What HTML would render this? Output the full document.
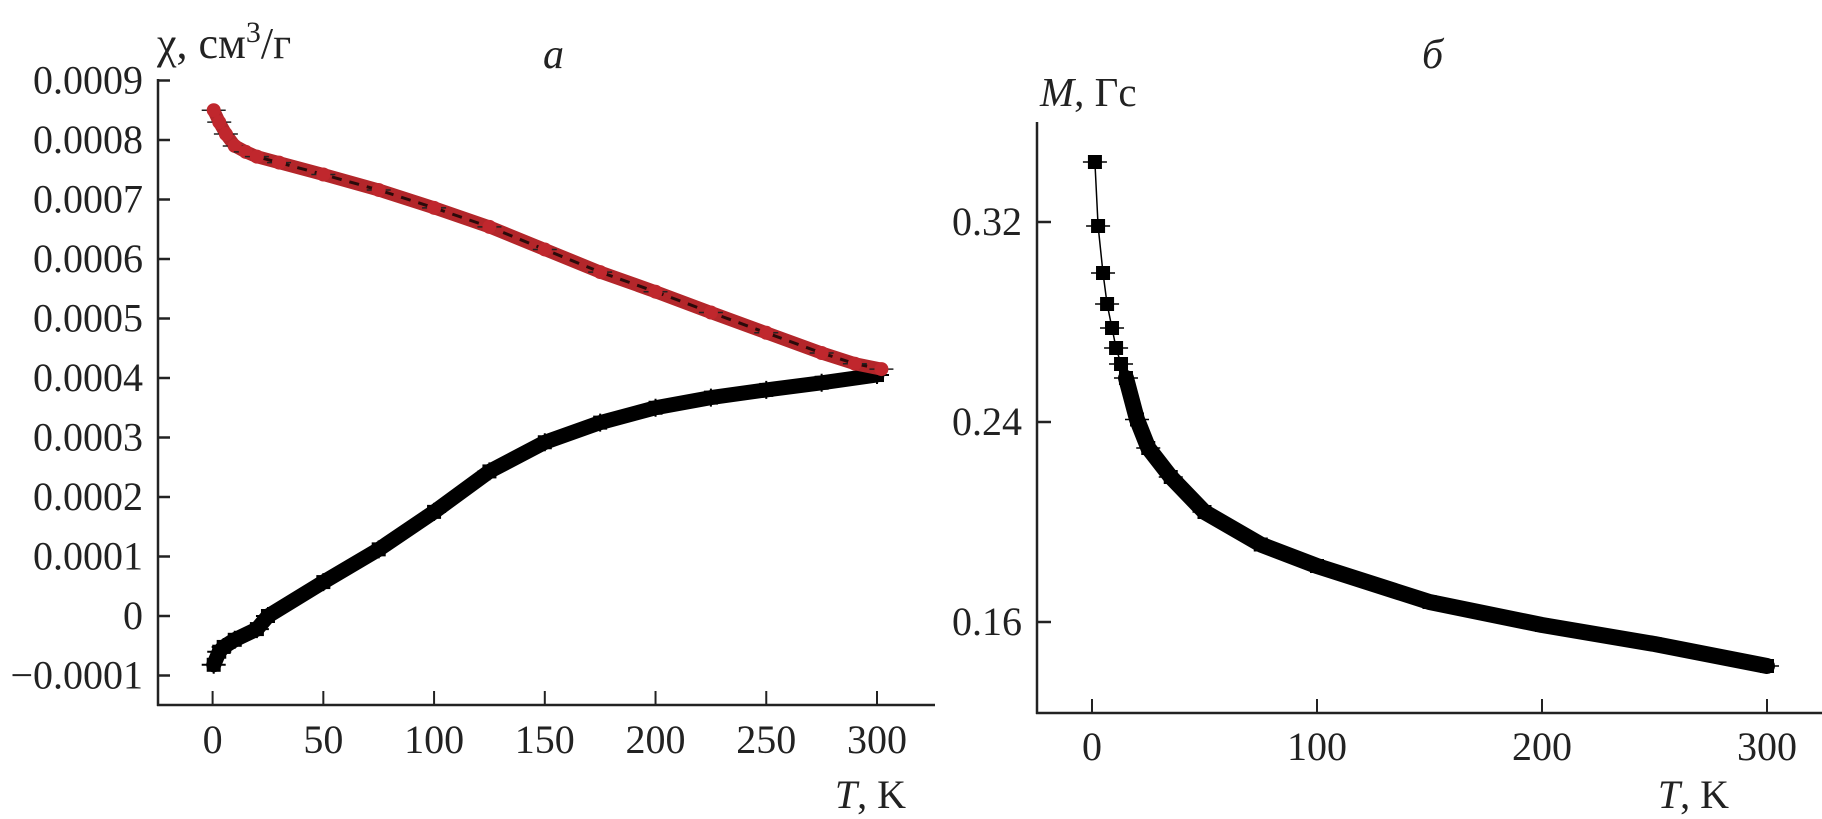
<!DOCTYPE html>
<html><head><meta charset="utf-8"><style>
html,body{margin:0;padding:0;background:#fff;}
svg{display:block;font-family:"Liberation Serif",serif;}
</style></head><body>
<svg id="fig" width="1822" height="819" viewBox="0 0 1822 819" xmlns="http://www.w3.org/2000/svg">
<g id="pa"></g>
<g id="pb"></g>
</svg>
<script>
// Panel a data
const aTicksX = [0, 50, 100, 150, 200, 250, 300];
const aTicksY = [0.0009, 0.0008, 0.0007, 0.0006, 0.0005, 0.0004, 0.0003, 0.0002, 0.0001, 0, -0.0001];
const aTickLabelsY = ["0.0009","0.0008","0.0007","0.0006","0.0005","0.0004","0.0003","0.0002","0.0001","0","\u22120.0001"];
const redT = [0.5, 3, 6, 10, 15, 20, 30, 50, 75, 100, 125, 150, 175, 200, 225, 250, 275, 290, 302];
const redV = [0.00085, 0.00083, 0.00081, 0.00079, 0.00078, 0.000772, 0.000762, 0.000742, 0.000716, 0.000686, 0.000654, 0.000616, 0.000578, 0.000545, 0.000510, 0.000476, 0.000442, 0.000424, 0.000415];
const blackT = [0.5, 3, 5, 10, 20, 25, 50, 75, 100, 125, 150, 175, 200, 225, 250, 275, 300];
const blackV = [-0.000082, -0.00006, -0.000052, -0.00004, -0.000022, 0.0, 0.000057, 0.000112, 0.000175, 0.000243, 0.000292, 0.000325, 0.000350, 0.000367, 0.000380, 0.000392, 0.000405];
// Panel b data
const bTicksX = [0, 100, 200, 300];
const bTicksY = [0.32, 0.24, 0.16];
const bTickLabelsY = ["0.32", "0.24", "0.16"];
const mT = [1.3, 2.7, 4.9, 6.7, 8.9, 10.7, 12.9, 15.1, 20, 25, 35, 50, 75, 100, 150, 200, 250, 300];
const mV = [0.344, 0.3184, 0.2996, 0.2872, 0.2776, 0.2696, 0.2632, 0.2576, 0.241, 0.2296, 0.218, 0.204, 0.191, 0.1824, 0.168, 0.1588, 0.1512, 0.1424];

const NS = "http://www.w3.org/2000/svg";
function mk(parent, tag, attrs, text) {
  const e = document.createElementNS(NS, tag);
  for (const k in attrs) e.setAttribute(k, attrs[k]);
  if (text !== undefined) e.textContent = text;
  parent.appendChild(e);
  return e;
}
const axA = { x: t => 212.6 + (t - 0) * (877 - 212.6) / 300, y: v => 616 - v * 595000 };
const axB = { x: t => 1092 + t * (1767 - 1092) / 300, y: v => 222 - (v - 0.32) * 2500 };

// ---------- Panel a ----------
const pa = document.getElementById('pa');
let e;
e = mk(pa, 'line', {x1:158, y1:79, x2:158, y2:706, stroke:'#222', 'stroke-width':2.5});


e = mk(pa, 'line', {x1:157, y1:705, x2:935, y2:705, stroke:'#222', 'stroke-width':2.5});


aTicksY.forEach((v, i) => {
  const y = axA.y(v);
  const t = mk(pa, 'line', {x1:158, y1:y, x2:170, y2:y, stroke:'#222', 'stroke-width':2.5});
  
  
  const l = mk(pa, 'text', {x:143, y:y + 13, 'font-size':40, 'text-anchor':'end', fill:'#222'}, aTickLabelsY[i]);
  
  
});
aTicksX.forEach(v => {
  const x = axA.x(v);
  const t = mk(pa, 'line', {x1:x, y1:705, x2:x, y2:691, stroke:'#222', 'stroke-width':2});
  
  
  const l = mk(pa, 'text', {x:x, y:753, 'font-size':40, 'text-anchor':'middle', fill:'#222'}, String(v));
  
  
});
e = mk(pa, 'text', {x:906, y:808, 'font-size':40, 'text-anchor':'end', fill:'#222'});
e.innerHTML = '<tspan font-style="italic">T</tspan>, K';


e = mk(pa, 'text', {x:157, y:58, 'font-size':44, fill:'#222'});
e.innerHTML = 'χ, см<tspan dy="-16" font-size="30">3</tspan><tspan dy="16">/г</tspan>';


e = mk(pa, 'text', {x:543, y:68, 'font-size':42, 'font-style':'italic', fill:'#222'}, 'а');



function pathD(ts, vs, ax) {
  return ts.map((t, i) => (i ? 'L' : 'M') + ax.x(t).toFixed(1) + ' ' + ax.y(vs[i]).toFixed(1)).join(' ');
}
e = mk(pa, 'path', {d:pathD(blackT, blackV, axA), fill:'none', stroke:'#000', 'stroke-width':15, 'stroke-linejoin':'round', 'stroke-linecap':'round'});


blackT.forEach((t, i) => {
  const x = axA.x(t), y = axA.y(blackV[i]);
  const m = mk(pa, 'path', {d:`M${x-12} ${y}H${x+12}M${x} ${y-9}V${y+9}`, stroke:'#000', 'stroke-width':2});
  
  
  const r = mk(pa, 'rect', {x:x-7, y:y-7, width:14, height:14, fill:'#000'});
  
  
});
e = mk(pa, 'path', {d:pathD(redT, redV, axA), fill:'none', stroke:'#b3262a', 'stroke-width':13, 'stroke-linejoin':'round', 'stroke-linecap':'round'});


e = mk(pa, 'path', {d:pathD(redT, redV, axA), fill:'none', stroke:'#2a0a0a', 'stroke-width':3, 'stroke-dasharray':'10 8'});


redT.forEach((t, i) => {
  const x = axA.x(t), y = axA.y(redV[i]);
  const m = mk(pa, 'line', {x1:x-12, y1:y, x2:x+12, y2:y, stroke:'#222', 'stroke-width':1.5});
  
  
  const c = mk(pa, 'circle', {cx:x, cy:y, r:7, fill:'#c0272d'});
  
  
});

// ---------- Panel b ----------
const pb = document.getElementById('pb');
e = mk(pb, 'line', {x1:1037, y1:122, x2:1037, y2:714, stroke:'#222', 'stroke-width':2.5});


e = mk(pb, 'line', {x1:1036, y1:713, x2:1822, y2:713, stroke:'#222', 'stroke-width':2.5});


bTicksY.forEach((v, i) => {
  const y = axB.y(v);
  const t = mk(pb, 'line', {x1:1037, y1:y, x2:1051, y2:y, stroke:'#222', 'stroke-width':2.5});
  
  
  const l = mk(pb, 'text', {x:1022, y:y + 13, 'font-size':40, 'text-anchor':'end', fill:'#222'}, bTickLabelsY[i]);
  
  
});
bTicksX.forEach(v => {
  const x = axB.x(v);
  const t = mk(pb, 'line', {x1:x, y1:713, x2:x, y2:699, stroke:'#222', 'stroke-width':2});
  
  
  const l = mk(pb, 'text', {x:x, y:760, 'font-size':40, 'text-anchor':'middle', fill:'#222'}, String(v));
  
  
});
e = mk(pb, 'text', {x:1729, y:808, 'font-size':40, 'text-anchor':'end', fill:'#222'});
e.innerHTML = '<tspan font-style="italic">T</tspan>, K';


e = mk(pb, 'text', {x:1040, y:106, 'font-size':41, fill:'#222'});
e.innerHTML = '<tspan font-style="italic">M</tspan>, Гс';


e = mk(pb, 'text', {x:1422, y:68, 'font-size':42, 'font-style':'italic', fill:'#222'}, 'б');



e = mk(pb, 'path', {d:pathD(mT, mV, axB), fill:'none', stroke:'#000', 'stroke-width':1.5});


const denseIdx = mT.findIndex(t => t >= 15);
e = mk(pb, 'path', {d:pathD(mT.slice(denseIdx), mV.slice(denseIdx), axB), fill:'none', stroke:'#000', 'stroke-width':16, 'stroke-linejoin':'round', 'stroke-linecap':'round'});


mT.forEach((t, i) => {
  const x = axB.x(t), y = axB.y(mV[i]);
  const m = mk(pb, 'line', {x1:x-12, y1:y, x2:x+12, y2:y, stroke:'#000', 'stroke-width':1.5});
  
  
  const r = mk(pb, 'rect', {x:x-7, y:y-7, width:14, height:14, fill:'#000'});
  
  
});
</script>
</body></html>
